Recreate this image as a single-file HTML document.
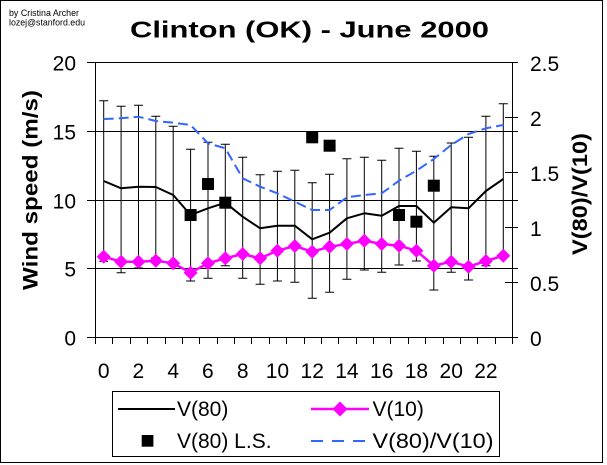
<!DOCTYPE html>
<html><head><meta charset="utf-8"><style>
html,body{margin:0;padding:0;background:#fff;}
svg{display:block;}
text{font-family:"Liberation Sans",Arial,sans-serif;fill:#000;}
</style></head><body>
<svg width="607" height="465" viewBox="0 0 607 465" xmlns="http://www.w3.org/2000/svg">
<rect x="0" y="0" width="607" height="465" fill="#fff"/>
<rect x="0.5" y="0.5" width="602" height="462" fill="none" stroke="#000" stroke-width="1"/>
<text x="9" y="16" font-size="9" textLength="70" lengthAdjust="spacingAndGlyphs">by Cristina Archer</text>
<text x="9" y="25.5" font-size="9" textLength="76" lengthAdjust="spacingAndGlyphs">lozej@stanford.edu</text>
<text x="130" y="37.5" font-size="23" font-weight="bold" textLength="359" lengthAdjust="spacingAndGlyphs">Clinton (OK) - June 2000</text>
<g stroke="#000" stroke-width="1" shape-rendering="crispEdges">
<line x1="87" y1="62.5" x2="518" y2="62.5"/>
<line x1="87" y1="131.5" x2="518" y2="131.5"/>
<line x1="87" y1="200.5" x2="518" y2="200.5"/>
<line x1="87" y1="268.5" x2="518" y2="268.5"/>
<line x1="87" y1="337.5" x2="518" y2="337.5"/>
<line x1="95.5" y1="62" x2="95.5" y2="344"/>
<line x1="512.5" y1="62" x2="512.5" y2="344"/>
<line x1="505" y1="117.5" x2="518" y2="117.5"/>
<line x1="505" y1="172.5" x2="518" y2="172.5"/>
<line x1="505" y1="227.5" x2="518" y2="227.5"/>
<line x1="505" y1="282.5" x2="518" y2="282.5"/>
<path d="M112.5 337V344M130.5 337V344M147.5 337V344M165.5 337V344M182.5 337V344M199.5 337V344M217.5 337V344M234.5 337V344M251.5 337V344M269.5 337V344M286.5 337V344M304.5 337V344M321.5 337V344M338.5 337V344M356.5 337V344M373.5 337V344M390.5 337V344M408.5 337V344M425.5 337V344M443.5 337V344M460.5 337V344M477.5 337V344M495.5 337V344"/>
</g>
<g font-size="21" text-anchor="end">
<text x="76" y="70.5">20</text><text x="76" y="139.5">15</text><text x="76" y="208.5">10</text><text x="76" y="276.5">5</text><text x="76" y="345.5">0</text>
</g>
<g font-size="21">
<text x="530" y="71">2.5</text><text x="530" y="126">2</text><text x="530" y="181">1.5</text><text x="530" y="236">1</text><text x="530" y="291">0.5</text><text x="530" y="346">0</text>
</g>
<g font-size="21" text-anchor="middle">
<text x="103.7" y="378">0</text><text x="138.4" y="378">2</text><text x="173.2" y="378">4</text><text x="207.9" y="378">6</text><text x="242.7" y="378">8</text><text x="277.4" y="378">10</text><text x="312.2" y="378">12</text><text x="346.9" y="378">14</text><text x="381.7" y="378">16</text><text x="416.4" y="378">18</text><text x="451.2" y="378">20</text><text x="485.9" y="378">22</text>
</g>
<text transform="translate(37.5,190) rotate(-90)" font-size="21" font-weight="bold" text-anchor="middle" textLength="200" lengthAdjust="spacingAndGlyphs">Wind speed (m/s)</text>
<text transform="translate(587,194) rotate(-90)" font-size="21" font-weight="bold" text-anchor="middle" textLength="122" lengthAdjust="spacingAndGlyphs">V(80)/V(10)</text>
<!-- error bars -->
<g stroke="#000" stroke-width="1" fill="none">
<path d="
M103.7 100.7V261.3M99.2 100.7H108.2M99.2 261.3H108.2
M121.1 106.3V272.7M116.6 106.3H125.6M116.6 272.7H125.6
M138.5 105.3V268M134 105.3H143M134 268H143
M155.8 116.3V257.7M151.3 116.3H160.3M151.3 257.7H160.3
M173.2 126.3V263.7M168.7 126.3H177.7M168.7 263.7H177.7
M190.6 149.3V281M186.1 149.3H195.1M186.1 281H195.1
M208 142.3V278.3M203.5 142.3H212.5M203.5 278.3H212.5
M225.3 144.3V265.7M220.8 144.3H229.8M220.8 265.7H229.8
M242.7 157.3V278.3M238.2 157.3H247.2M238.2 278.3H247.2
M260.1 174.7V284.3M255.6 174.7H264.6M255.6 284.3H264.6
M277.4 171.3V281M272.9 171.3H281.9M272.9 281H281.9
M294.8 170.3V282.3M290.3 170.3H299.3M290.3 282.3H299.3
M312.2 182.7V298.3M307.7 182.7H316.7M307.7 298.3H316.7
M329.6 174.3V292.3M325.1 174.3H334.1M325.1 292.3H334.1
M346.9 158.7V279.3M342.4 158.7H351.4M342.4 279.3H351.4
M364.3 157.3V270M359.8 157.3H368.8M359.8 270H368.8
M381.7 160.3V272.3M377.2 160.3H386.2M377.2 272.3H386.2
M399 148.3V265M394.5 148.3H403.5M394.5 265H403.5
M416.4 151.3V261M411.9 151.3H420.9M411.9 261H420.9
M433.8 156.3V290M429.3 156.3H438.3M429.3 290H438.3
M451.2 143V272.3M446.7 143H455.7M446.7 272.3H455.7
M468.5 137.3V280M464 137.3H473M464 280H473
M485.9 116.3V265.7M481.4 116.3H490.4M481.4 265.7H490.4
M503.3 103.7V254.3M498.8 103.7H507.8M498.8 254.3H507.8"/>
</g>
<!-- V(80) -->
<polyline fill="none" stroke="#000" stroke-width="2" stroke-linejoin="round" points="103.7,181 121.1,188.3 138.5,186.7 155.8,187 173.2,195 190.6,215 208,208.3 225.3,202.7 242.7,216.7 260.1,228.3 277.4,225.7 294.8,225.7 312.2,239.3 329.6,232.7 346.9,218.3 364.3,213.3 381.7,215.7 399,206 416.4,206 433.8,222.7 451.2,207.3 468.5,208.3 485.9,191 503.3,179"/>
<!-- ratio -->
<polyline fill="none" stroke="#3366FF" stroke-width="2" stroke-dasharray="10,5" points="103.7,119 121.1,118.3 138.5,116.7 155.8,121 173.2,122.7 190.6,125 208,143.3 225.3,148.3 242.7,178.3 260.1,186.7 277.4,193.3 294.8,201.7 312.2,210 329.6,210 346.9,197.3 364.3,195 381.7,193.3 399,180.7 416.4,170.7 433.8,159 451.2,145 468.5,134 485.9,128.3 503.3,125"/>
<!-- V(10) -->
<polyline fill="none" stroke="#FF00FF" stroke-width="2.5" points="103.7,256.7 121.1,261.7 138.5,261.7 155.8,260.7 173.2,263.3 190.6,272.7 208,263.3 225.3,258.3 242.7,254 260.1,258.3 277.4,250.7 294.8,246 312.2,251.7 329.6,246.7 346.9,244 364.3,240.7 381.7,244 399,245.7 416.4,250.7 433.8,265.7 451.2,261.7 468.5,266.7 485.9,261 503.3,255.7"/>
<g fill="#FF00FF">
<path d="
M103.7 249.7l7 7l-7 7l-7 -7z
M121.1 254.7l7 7l-7 7l-7 -7z
M138.5 254.7l7 7l-7 7l-7 -7z
M155.8 253.7l7 7l-7 7l-7 -7z
M173.2 256.3l7 7l-7 7l-7 -7z
M190.6 265.7l7 7l-7 7l-7 -7z
M208 256.3l7 7l-7 7l-7 -7z
M225.3 251.3l7 7l-7 7l-7 -7z
M242.7 247l7 7l-7 7l-7 -7z
M260.1 251.3l7 7l-7 7l-7 -7z
M277.4 243.7l7 7l-7 7l-7 -7z
M294.8 239l7 7l-7 7l-7 -7z
M312.2 244.7l7 7l-7 7l-7 -7z
M329.6 239.7l7 7l-7 7l-7 -7z
M346.9 237l7 7l-7 7l-7 -7z
M364.3 233.7l7 7l-7 7l-7 -7z
M381.7 237l7 7l-7 7l-7 -7z
M399 238.7l7 7l-7 7l-7 -7z
M416.4 243.7l7 7l-7 7l-7 -7z
M433.8 258.7l7 7l-7 7l-7 -7z
M451.2 254.7l7 7l-7 7l-7 -7z
M468.5 259.7l7 7l-7 7l-7 -7z
M485.9 254l7 7l-7 7l-7 -7z
M503.3 248.7l7 7l-7 7l-7 -7z"/>
</g>
<!-- V(80) L.S. squares -->
<g fill="#000">
<rect x="184.6" y="209" width="12" height="12"/>
<rect x="202" y="178" width="12" height="12"/>
<rect x="219.3" y="196.7" width="12" height="12"/>
<rect x="306.2" y="131.3" width="12" height="12"/>
<rect x="323.6" y="139.7" width="12" height="12"/>
<rect x="393" y="209" width="12" height="12"/>
<rect x="410.4" y="215.7" width="12" height="12"/>
<rect x="427.8" y="179.7" width="12" height="12"/>
</g>
<!-- legend -->
<rect x="112.5" y="391.5" width="387" height="65" fill="#fff" stroke="#000" stroke-width="1"/>
<line x1="118" y1="409" x2="175" y2="409" stroke="#000" stroke-width="2"/>
<text x="177" y="416" font-size="21">V(80)</text>
<rect x="141.7" y="435" width="11.7" height="11.7" fill="#000"/>
<text x="177" y="448" font-size="21">V(80) L.S.</text>
<line x1="311" y1="409" x2="369" y2="409" stroke="#FF00FF" stroke-width="2.5"/>
<path d="M340 401.5l7.5 7.5l-7.5 7.5l-7.5 -7.5z" fill="#FF00FF"/>
<text x="372.5" y="416" font-size="21">V(10)</text>
<line x1="311" y1="441" x2="369" y2="441" stroke="#3366FF" stroke-width="2" stroke-dasharray="12,9"/>
<text x="372.5" y="448" font-size="21" textLength="121" lengthAdjust="spacingAndGlyphs">V(80)/V(10)</text>
</svg>
</body></html>
